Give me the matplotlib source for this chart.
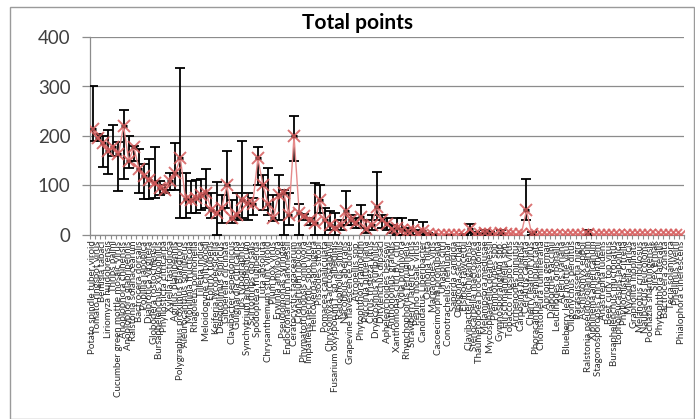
import matplotlib
matplotlib.use('Agg')
import matplotlib.pyplot as plt
import numpy as np
from matplotlib.patches import Rectangle

plt.rcParams['font.family'] = ['Lato', 'DejaVu Sans']

categories = [
    "Potato spindle tuber viroid", "Tomato ringspot virus", "Bemisia tabaci", "Liriomyza huidobrensis",
    "Thrips palmi", "Cucumber green mottle mosaic virus", "Anoplophora chinensis", "Anoplophora glabripennis",
    "Ralstonia solanacearum", "Bactrocera dorsalis", "Popillia japonica", "Diabrotica virgifera",
    "Globodera rostochiensis", "Bursaphelenchus xylophilus", "Phyllosticta citricarpa", "Xylella fastidiosa",
    "Agrilus planipennis", "Polygraphus proximus Blandford", "Aleurocanthus spiniferus", "Monilinia fructicola",
    "Rhagoletis pomonella", "Tilletia indica", "Meloidogyne chitwoodi", "Epitrix tuberis",
    "Keiferia lycopersicella", "Dendrolimus sibiricus", "Gibberella circinata", "Clavibacter sepedonicus",
    "Guignardia citricarpa", "Ips typographus", "Synchytrium endobioticum", "Scirtothrips dorsalis",
    "Spodoptera frugiperda", "Tuta absoluta", "Chrysanthemum stunt viroid", "Plum pox virus",
    "Erwinia amylovora", "Pseudomonas syringae", "Endocronartium harknessii", "Ceratocystis fagacearum",
    "Cronartium ribicola", "Phymatotrichopsis omnivora", "Impatiens necrotic spot virus", "Helicoverpa armigera",
    "Pissodes strobi", "Pomacea canaliculata", "Chrysomyxa arctostaphyli", "Fusarium oxysporum f. sp. albedinis",
    "Radopholus similis", "Nacobbus aberrans", "Grapevine flavescence doree", "Atropellis spp.",
    "Phytophthora ramorum", "Puccinia pittieriana", "Citrus tristeza virus", "Dryocosmus kuriphilus",
    "Ditylenchus dipsaci", "Aphelenchoides besseyi", "Anthonomus grandis", "Xanthomonas citri pv. citri",
    "Cydia prunivora", "Rhynchophorus ferrugineus", "Strawberry latent C virus", "Pepino mosaic virus",
    "Candidatus Liberibacter", "Oemona hirta", "Margarodes vitis", "Cacoecimorpha pronubana",
    "Unaspis citri", "Conotrachelus nenuphar", "Saperda candida", "Opogona sacchari",
    "Elsinoe fawcettii", "Clavibacter michiganensis", "Stenocarpella macrospora", "Thaumetopoea processionea",
    "Melampsora medusae", "Mycosphaerella dearnessii", "Premnotrypes spp.", "Gymnosporangium spp.",
    "Hirschmanniella spp.", "Tobacco ringspot virus", "Arrhenodes minutus", "Carposina niponensis",
    "Ceratitis capitata", "Cherry leafroll virus", "Phoracantha semipunctata", "Choristoneura fumiferana",
    "Apriona germari", "Diaporthe vaccinii", "Leucinodes orbonalis", "Acleris variana",
    "Blueberry leaf mottle virus", "Oligonychus perditus", "Parasaissetia nigra", "Aschistonyx eppoi",
    "Ralstonia pseudosolanacearum", "Xiphinema americanum", "Stagonosporopsis chrysanthemi", "Anastrepha ludens",
    "Beet curly top virus", "Bursaphelenchus mucronatus", "Lopholeucaspis japonica", "Phyllocnistis citrella",
    "Mycodiella laricis", "Grapholita inopinata", "Melanotus cribulosus", "Naupactus leucoloma",
    "Pochazia shantungensis", "Sirex ermak", "Phytophthora lateralis", "Bactrocera zonata",
    "Tecia solanivora", "Phellinus weirii", "Phialophora cinerescens",
]

values = [214, 195, 185, 170, 177, 163, 220, 150, 177, 133, 120, 112, 105, 95, 90, 110, 126, 155,
          72, 70, 75, 80, 85, 50, 45, 55, 100, 35, 40, 70, 65, 62, 155, 100, 62, 35, 80, 85, 40, 200,
          45, 38, 30, 25, 70, 30, 20, 15, 20, 48, 30, 25, 37, 12, 20, 57, 30, 22, 12, 15, 10, 8, 10, 5,
          8, 2, 1, 0, 0, 1, 0, 0, 1, 12, 3, 2, 5, 3, 2, 4, 3, 2, 1, 2, 50, 3, 0, 0, 0, 0, 0, 0, 0, 0,
          0, 0, 2, 0, 0, 0, 0, 0, 0, 0, 0, 0, 0, 0, 0, 0, 0, 0, 0, 0, 0]
err_low = [190, 190, 138, 124, 160, 88, 113, 135, 150, 85, 72, 72, 75, 80, 85, 90, 90, 35,
           34, 45, 45, 50, 55, 35, 0, 25, 55, 25, 30, 35, 30, 40, 100, 50, 40, 28, 30, 0, 20, 150,
           0, 30, 20, 0, 45, 0, 10, 0, 10, 20, 20, 15, 15, 5, 10, 30, 15, 10, 5, 0, 0, 0, 0, 0,
           0, 0, 0, 0, 0, 0, 0, 0, 0, 5, 0, 0, 0, 0, 2, 0, 3, 2, 1, 2, 30, 0, 0, 0, 0, 0, 0, 0, 0, 0,
           0, 0, 0, 0, 0, 0, 0, 0, 0, 0, 0, 0, 0, 0, 0, 0, 0, 0, 0, 0, 0]
err_high = [300, 205, 200, 212, 222, 187, 252, 199, 180, 173, 143, 153, 177, 110, 100, 125, 185, 338,
            126, 110, 112, 113, 133, 85, 108, 80, 170, 70, 85, 190, 85, 75, 177, 122, 135, 80, 122, 90, 85, 240,
            62, 42, 35, 105, 100, 55, 48, 45, 30, 89, 40, 35, 61, 30, 40, 128, 40, 35, 20, 34, 34, 15, 30, 10,
            26, 5, 2, 0, 0, 1, 0, 0, 3, 22, 6, 4, 10, 6, 2, 10, 3, 2, 1, 2, 113, 6, 0, 0, 0, 0, 0, 0, 0, 0,
            0, 0, 10, 0, 0, 0, 0, 0, 0, 0, 0, 0, 0, 0, 0, 0, 0, 0, 0, 0, 0]

W, H = 695, 419
fig = plt.figure(figsize=(W / 100, H / 100), dpi=100)
ax = fig.add_axes([90 / W, 1 - 235 / H, 594 / W, 198 / H])

n = len(categories)
x = np.arange(n)
v = np.array(values, dtype=float)
lo = np.array(err_low, dtype=float)
hi = np.array(err_high, dtype=float)
m = (hi - lo) > 0

ax.set_axisbelow(True)
ax.yaxis.grid(True, color='#8c8c8c', lw=0.9)
ax.errorbar(x[m], v[m], yerr=[v[m] - lo[m], hi[m] - v[m]], fmt='none', ecolor='black',
            elinewidth=1.3, capsize=3.5, capthick=1.3, zorder=3)
ax.plot(x, v, color='#e58a8a', lw=1.0, zorder=4)
ax.plot(x[m], v[m], ls='none', marker='_', color='black', ms=5, mew=2.2, zorder=4)
ax.plot(x, v, ls='none', marker='x', color='#d65c5c', ms=8, mew=1.4, alpha=0.85, zorder=5)

ax.set_xlim(-0.5, n - 0.5)
ax.set_ylim(0, 400)
ax.set_yticks([0, 100, 200, 300, 400])
ax.tick_params(axis='y', labelsize=13.5, labelcolor='#404040', color='#8c8c8c', length=6, width=0.9, pad=8)
ax.set_xticks(x)
ax.set_xticklabels(categories, rotation=90, fontsize=7, color='#2a2a2a')
ax.tick_params(axis='x', which='major', length=0, pad=4)
ax.set_xticks(np.arange(-0.5, n, 1), minor=True)
ax.tick_params(axis='x', which='minor', length=3, color='#8c8c8c', width=0.8)
for s in ['top', 'right']:
    ax.spines[s].set_visible(False)
for s in ['left', 'bottom']:
    ax.spines[s].set_color('#8c8c8c')
    ax.spines[s].set_linewidth(0.9)

fig.patches.append(Rectangle((10 / W, 0.5 / H), 684 / W, 1 - 7.5 / H, transform=fig.transFigure,
                             fill=False, edgecolor='#9a9a9a', lw=1.0))
fig.text(358 / W, 1 - 23 / H, 'Total points', ha='center', va='center', fontsize=15, fontweight='bold')

fig.savefig('out.png', dpi=100)
